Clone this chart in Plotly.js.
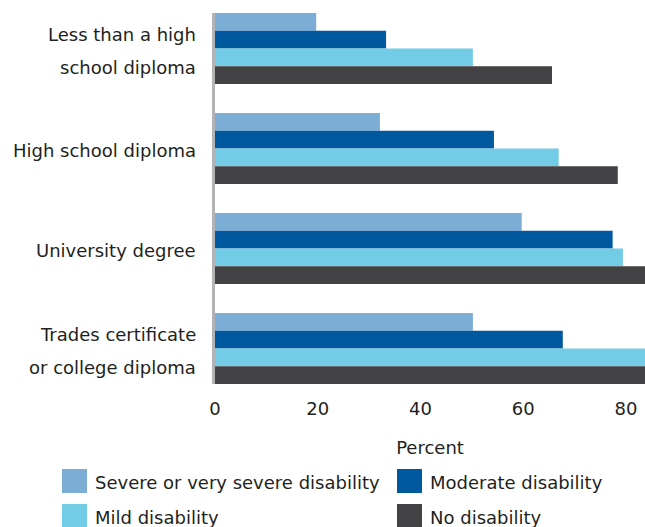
<!DOCTYPE html>
<html>
<head>
<meta charset="utf-8">
<script src="https://cdn.plot.ly/plotly-3.0.1.min.js"></script>
<style>html,body{margin:0;padding:0;background:#fff;}#chart{width:645px;height:527px;}</style>
</head>
<body>
<div id="chart"></div>
<script>
const categories = ["Less than a high<br>school diploma", "High school diploma", "University degree", "Trades certificate<br>or college diploma"];
const seriesNames = ["Severe or very severe disability", "Moderate disability", "Mild disability", "No disability"];
const severe = [19.7, 32.1, 59.7, 50.2];
const moderate = [33.3, 54.3, 77.4, 67.7];
const mild = [50.2, 66.9, 79.4, 86];
const none = [65.6, 78.4, 86, 86];
const xTicks = [0, 20, 40, 60, 80];

const colors = ["#7badd5", "#00589e", "#73cce5", "#424244"];
const values = [severe, moderate, mild, none];
const FONT = "DejaVu Sans, sans-serif";
const TXT = "#231f20";
const FS = 18;

const traces = values.map((v, i) => ({
  type: "bar", orientation: "h",
  x: v, y: categories, name: seriesNames[i],
  marker: {color: colors[i], line: {width: 0}},
  showlegend: false, hoverinfo: "x"
}));

const annotations = [];
categories.forEach((c, i) => {
  const lines = c.split("<br>");
  const offs = lines.length === 1 ? [1.5] : [-14, 19];
  lines.forEach((ln, j) => {
    annotations.push({
      xref: "paper", yref: "y", x: 0, y: c, xanchor: "right", yanchor: "middle",
      xshift: -17, yshift: -offs[j], text: ln, showarrow: false,
      font: {family: FONT, size: FS, color: TXT}
    });
  });
});

const shapes = [];
// legend (manual, 2 columns)
const legPos = [[62, 469], [397, 469], [62, 504], [397, 504]];
seriesNames.forEach((n, i) => {
  const [px, py] = legPos[i];
  shapes.push({
    type: "rect", xref: "paper", yref: "paper",
    x0: (px - 215) / 430, x1: (px + 25 - 215) / 430,
    y0: (384 - py) / 371, y1: (384 - py - 24) / 371,
    fillcolor: colors[i], line: {width: 0}
  });
  annotations.push({
    xref: "paper", yref: "paper", x: (px + 31 - 215) / 430, y: (384 - py - 13) / 371,
    xanchor: "left", yanchor: "middle", text: n, showarrow: false,
    font: {family: FONT, size: FS, color: TXT}
  });
});

const layout = {
  width: 645, height: 527,
  margin: {l: 215, r: 0, t: 13, b: 143},
  barmode: "group", bargap: 0.29, bargroupgap: 0,
  paper_bgcolor: "#fff", plot_bgcolor: "#fff",
  font: {family: FONT, color: TXT, size: FS},
  xaxis: {
    range: [0, 83.7], tickvals: xTicks, ticktext: xTicks.map(String),
    showgrid: false, zeroline: false, showline: false, ticks: "",
    ticklabelstandoff: 12,
    tickfont: {family: FONT, size: FS, color: TXT},
    title: {text: "Percent", font: {family: FONT, size: FS, color: TXT}, standoff: 23}
  },
  yaxis: {
    type: "category", range: [3.355, -0.355],
    showticklabels: false, showgrid: false, zeroline: false,
    showline: true, linecolor: "#b3b3b5", linewidth: 3, ticks: ""
  },
  annotations: annotations, shapes: shapes
};

Plotly.newPlot("chart", traces, layout, {displayModeBar: false, staticPlot: true});
</script>
</body>
</html>
